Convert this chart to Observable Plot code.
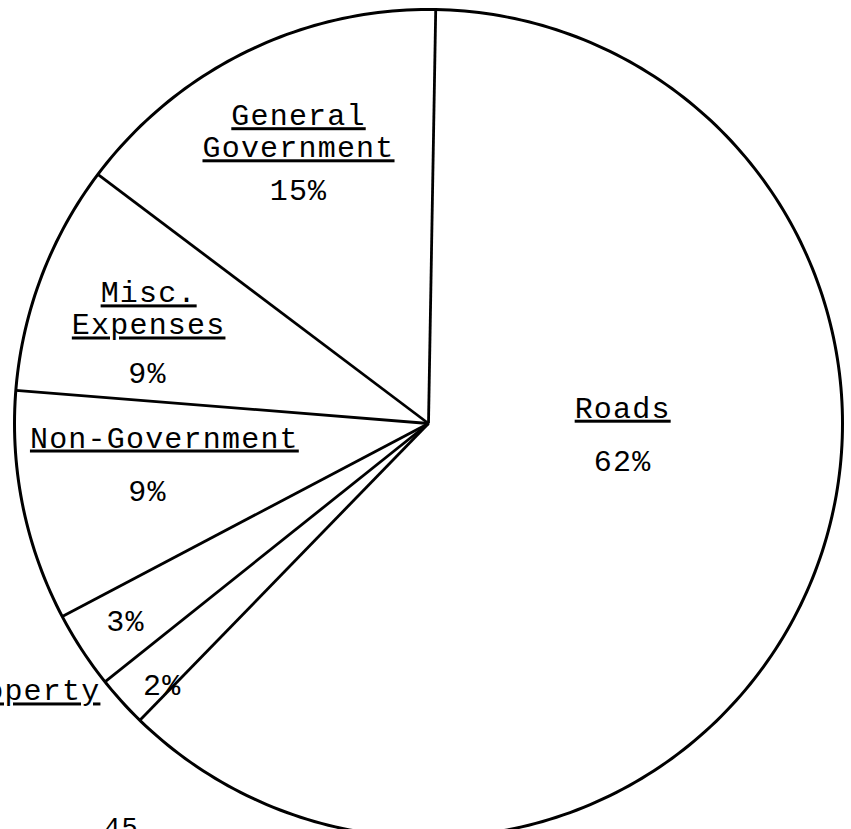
<!DOCTYPE html>
<html><head><meta charset="utf-8">
<script src="https://cdn.jsdelivr.net/npm/d3@7"></script>
<script src="https://cdn.jsdelivr.net/npm/@observablehq/plot@0.6"></script>
<style>
body{margin:0;background:#fff;}
#chart svg{display:block;}
#chart text{letter-spacing:1.2px;}
</style></head><body><div id="chart"></div>
<script>
// ---- data ----
const names = ["Roads", "Property", "", "Non-Government", "Misc.\nExpenses", "General\nGovernment"];
const values = [62, 2, 3, 9, 9, 15];
const pageNumber = "45";

// ---- layout (label anchors in unit-circle coordinates) ----
const nameAt = [[0.469, 0.014], [-0.978, -0.669], null, [-0.638, -0.058], [-0.676, 0.215], [-0.314, 0.643]];
const pctAt = [[0.469, -0.114], [-0.643, -0.657], [-0.732, -0.5], [-0.679, -0.186], [-0.679, 0.097], [-0.314, 0.539]];
const rotation = 1; // degrees clockwise from 12 o'clock
const cx = 428, cy = 423, R = 414;

const total = d3.sum(values);
const cum = d3.cumsum([0, ...values.slice(0, -1)]);
const rad = (deg) => deg * Math.PI / 180;
const slices = values.map((v, i) => {
  const a = rad(rotation + 360 * cum[i] / total);
  return {name: names[i], value: v, pct: v + "%", a, nx: nameAt[i]?.[0], ny: nameAt[i]?.[1], px: pctAt[i][0], py: pctAt[i][1]};
});
const outline = d3.range(0, 361).map(d => ({x: Math.sin(rad(d)), y: Math.cos(rad(d))}));
const font = "Liberation Mono, DejaVu Sans Mono, monospace";

const svg = Plot.plot({
  width: 851, height: 829, margin: 0,
  x: {domain: [-1, 1], range: [cx - R, cx + R], axis: null},
  y: {domain: [-1, 1], range: [cy + R, cy - R], axis: null},
  marks: [
    Plot.line(outline, {x: "x", y: "y", stroke: "#000", strokeWidth: 3}),
    Plot.link(slices, {x1: () => 0, y1: () => 0, x2: d => Math.sin(d.a), y2: d => Math.cos(d.a), stroke: "#000", strokeWidth: 2.8}),
    Plot.text(slices.filter(d => d.name), {x: "nx", y: "ny", text: "name", textAnchor: "middle", lineAnchor: "bottom", lineHeight: 1.07, fontSize: 30, fontFamily: font, fill: "#000"}),
    Plot.text(slices, {x: "px", y: "py", text: "pct", textAnchor: "middle", lineAnchor: "bottom", fontSize: 30, fontFamily: font, fill: "#000"}),
    Plot.text([pageNumber], {frameAnchor: "bottom-left", dx: 121, dy: 6, textAnchor: "middle", lineAnchor: "bottom", fontSize: 27, fontFamily: font, fill: "#000"})
  ]
});
d3.select(svg).selectAll('g[aria-label="text"]').filter((d, i) => i === 0).selectAll("text")
  .style("text-decoration", "underline")
  .style("text-decoration-thickness", "2px")
  .style("text-underline-offset", "4px");
document.getElementById("chart").append(svg);
</script></body></html>
